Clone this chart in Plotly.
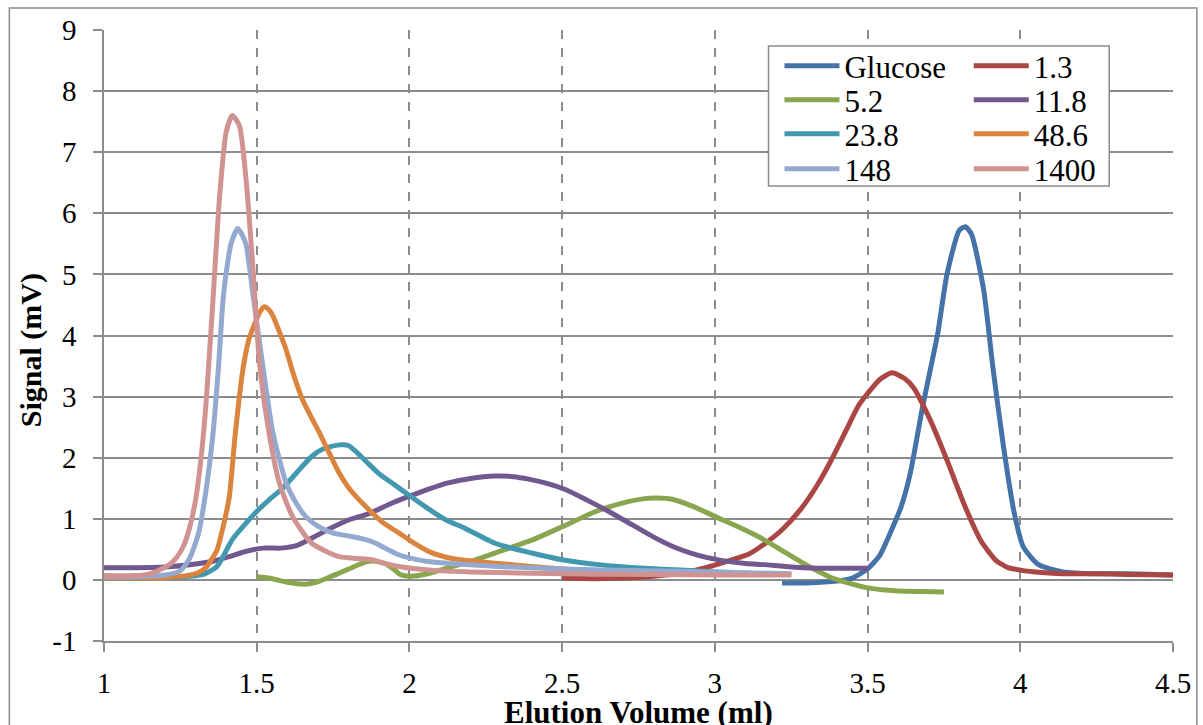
import plotly.graph_objects as go

# ---- data (elution volume in ml, signal in mV) ----
series_names = ["Glucose", "1.3", "5.2", "11.8", "23.8", "48.6", "148", "1400"]
series_colors = ["#4572A7", "#AA4643", "#89A54E", "#71588F",
                 "#4198AF", "#DB843D", "#93A9CF", "#D19392"]

glucose_x = [3.22, 3.30, 3.40, 3.45, 3.50, 3.54, 3.57, 3.61, 3.64, 3.68, 3.71, 3.73, 3.76,
             3.80, 3.82, 3.84, 3.88, 3.91, 3.945, 3.98, 4.01, 4.06, 4.14, 4.25, 4.35, 4.5]
glucose_y = [-0.05, -0.05, -0.02, 0.03, 0.18, 0.4, 0.72, 1.2, 1.75, 2.83, 3.55, 4.04, 5.0,
             5.72, 5.78, 5.66, 4.75, 3.49, 2.18, 1.1, 0.54, 0.25, 0.13, 0.1, 0.1, 0.08]

r13_x = [2.50, 2.60, 2.70, 2.80, 2.90, 2.97, 3.05, 3.11, 3.16, 3.22, 3.28, 3.335, 3.38, 3.43,
         3.47, 3.50, 3.54, 3.58, 3.62, 3.65, 3.705, 3.76, 3.815, 3.87, 3.92, 3.96, 4.0, 4.07,
         4.14, 4.25, 4.35, 4.5]
r13_y = [0.03, 0.02, 0.03, 0.06, 0.12, 0.2, 0.32, 0.42, 0.58, 0.82, 1.15, 1.55, 1.95, 2.45,
         2.85, 3.05, 3.28, 3.39, 3.3, 3.15, 2.62, 1.96, 1.25, 0.65, 0.32, 0.2, 0.16, 0.12,
         0.1, 0.1, 0.09, 0.08]

r52_x = [1.50, 1.55, 1.60, 1.66, 1.70, 1.74, 1.77, 1.82, 1.86, 1.88, 1.92, 1.95, 1.97, 2.0,
         2.06, 2.12, 2.2, 2.28, 2.4, 2.5, 2.61, 2.7, 2.77, 2.81, 2.86, 2.93, 3.0, 3.08, 3.16,
         3.22, 3.28, 3.335, 3.38, 3.43, 3.5, 3.6, 3.68, 3.75]
r52_y = [0.05, 0.02, -0.04, -0.07, -0.03, 0.05, 0.11, 0.22, 0.3, 0.31, 0.27, 0.17, 0.09, 0.06,
         0.1, 0.19, 0.3, 0.44, 0.65, 0.87, 1.12, 1.26, 1.33, 1.34, 1.32, 1.2, 1.04, 0.86, 0.66,
         0.48, 0.3, 0.15, 0.04, -0.04, -0.13, -0.18, -0.19, -0.2]

r118_x = [1.0, 1.1, 1.2, 1.3, 1.36, 1.41, 1.46, 1.52, 1.58, 1.63, 1.69, 1.74, 1.80, 1.87, 1.94,
          2.0, 2.06, 2.12, 2.2, 2.28, 2.34, 2.39, 2.45, 2.51, 2.58, 2.66, 2.73, 2.8, 2.87, 2.94,
          3.02, 3.1, 3.16, 3.25, 3.335, 3.42, 3.505]
r118_y = [0.2, 0.2, 0.21, 0.26, 0.31, 0.38, 0.46, 0.52, 0.52, 0.56, 0.71, 0.84, 0.98, 1.09, 1.25,
          1.37, 1.48, 1.58, 1.66, 1.70, 1.69, 1.65, 1.58, 1.48, 1.31, 1.1, 0.9, 0.7, 0.53, 0.41,
          0.32, 0.27, 0.25, 0.21, 0.19, 0.19, 0.19]

r238_x = [1.0, 1.1, 1.2, 1.28, 1.33, 1.37, 1.42, 1.46, 1.50, 1.545, 1.585, 1.63, 1.68, 1.72,
          1.77, 1.80, 1.825, 1.86, 1.90, 1.95, 2.0, 2.06, 2.12, 2.18, 2.28, 2.40, 2.50, 2.62,
          2.77, 2.89, 3.0, 3.1, 3.25]
r238_y = [0.03, 0.03, 0.04, 0.06, 0.1, 0.22, 0.66, 0.9, 1.12, 1.33, 1.5, 1.75, 2.02, 2.15,
          2.21, 2.2, 2.1, 1.93, 1.74, 1.56, 1.38, 1.17, 0.98, 0.85, 0.6, 0.44, 0.33, 0.25,
          0.19, 0.16, 0.13, 0.11, 0.09]

r486_x = [1.0, 1.1, 1.2, 1.27, 1.31, 1.335, 1.37, 1.39, 1.41, 1.43, 1.455, 1.475, 1.49, 1.51,
          1.525, 1.54, 1.553, 1.575, 1.596, 1.62, 1.65, 1.68, 1.705, 1.74, 1.77, 1.81, 1.857,
          1.91, 1.965, 2.01, 2.07, 2.12, 2.18, 2.29, 2.4, 2.5, 2.6, 2.8, 3.0, 3.25]
r486_y = [0.03, 0.03, 0.04, 0.07, 0.12, 0.21, 0.49, 0.87, 1.35, 2.4, 3.45, 3.95, 4.15, 4.38,
          4.47, 4.42, 4.32, 4.05, 3.77, 3.37, 2.95, 2.65, 2.41, 2.05, 1.75, 1.45, 1.2,
          0.95, 0.77, 0.62, 0.45, 0.37, 0.32, 0.27, 0.22, 0.18, 0.15, 0.12, 0.1, 0.09]

r148_x = [1.0, 1.1, 1.2, 1.25, 1.28, 1.31, 1.335, 1.357, 1.375, 1.39, 1.405, 1.417, 1.438,
          1.455, 1.466, 1.487, 1.52, 1.553, 1.596, 1.63, 1.66, 1.70, 1.748, 1.80, 1.857, 1.89,
          1.92, 1.96, 2.0, 2.06, 2.13, 2.29, 2.5, 2.77, 3.0, 3.25]
r148_y = [0.05, 0.05, 0.08, 0.15, 0.35, 0.77, 1.5, 2.4, 3.5, 4.6, 5.2, 5.52, 5.75,
          5.62, 5.47, 4.7, 3.5, 2.41, 1.59, 1.25, 1.04, 0.88, 0.77, 0.72, 0.66, 0.6,
          0.52, 0.42, 0.36, 0.3, 0.27, 0.22, 0.18, 0.15, 0.13, 0.1]

r1400_x = [1.0, 1.1, 1.15, 1.205, 1.235, 1.26, 1.28, 1.30, 1.32, 1.335, 1.357, 1.378, 1.40,
           1.42, 1.443, 1.466, 1.487, 1.51, 1.54, 1.574, 1.617, 1.68, 1.77, 1.83, 1.877, 1.92,
           1.965, 2.07, 2.2, 2.5, 2.8, 3.0, 3.25]
r1400_y = [0.07, 0.07, 0.1, 0.22, 0.35, 0.55, 0.85, 1.31, 2.1, 2.95, 4.6, 6.24, 7.33,
           7.6, 7.44, 6.51, 5.14, 3.5, 2.41, 1.59, 1.04, 0.6, 0.38, 0.35, 0.33, 0.27,
           0.22, 0.16, 0.13, 0.1, 0.09, 0.08, 0.08]

x_ticks = [1, 1.5, 2, 2.5, 3, 3.5, 4, 4.5]
y_ticks = [-1, 0, 1, 2, 3, 4, 5, 6, 7, 8, 9]

all_x = [glucose_x, r13_x, r52_x, r118_x, r238_x, r486_x, r148_x, r1400_x]
all_y = [glucose_y, r13_y, r52_y, r118_y, r238_y, r486_y, r148_y, r1400_y]

FONT = "Liberation Serif"
GRID = "#8C8C8C"

W, H = 1203, 725
L, R, T, B = 104, 26, 30, 84
pw, ph = W - L - R, H - T - B


def px2paper_x(px):
    return (px - L) / pw


def py2paper_y(py):
    return (H - B - py) / ph


# legend layout: two columns x four rows, one legend box per entry
col_left = [782, 972]
row_mid = [66, 100, 134, 169]

fig = go.Figure()
legend_layouts = {}
for i, (name, color, xs, ys) in enumerate(zip(series_names, series_colors, all_x, all_y)):
    key = "legend" if i == 0 else f"legend{i + 1}"
    fig.add_trace(go.Scatter(
        x=xs, y=ys, name=name, mode="lines", legend=key,
        line=dict(color=color, width=5, shape="spline", smoothing=0.6),
    ))
    legend_layouts[key] = dict(
        x=px2paper_x(col_left[i % 2]), y=py2paper_y(row_mid[i // 2]),
        xanchor="left", yanchor="middle", itemwidth=55,
        bgcolor="rgba(0,0,0,0)", borderwidth=0,
        font=dict(family=FONT, size=31, color="black"),
    )

fig.update_layout(
    width=W, height=H,
    margin=dict(l=L, r=R, t=T, b=B),
    paper_bgcolor="white", plot_bgcolor="white",
    font=dict(family=FONT, size=29, color="black"),
    showlegend=True,
    xaxis=dict(
        range=[1, 4.5], tickvals=x_ticks, ticktext=[str(v) for v in x_ticks],
        showgrid=True, gridcolor=GRID, gridwidth=1.5, griddash="dash",
        showline=True, linecolor=GRID, linewidth=1.5,
        ticks="outside", ticklen=9, tickcolor=GRID, tickwidth=1.5,
        ticklabelstandoff=6, zeroline=False,
        tickfont=dict(family=FONT, size=29, color="black"),
    ),
    yaxis=dict(
        range=[-1, 9], tickvals=y_ticks, ticktext=[str(v) for v in y_ticks],
        showgrid=True, gridcolor=GRID, gridwidth=1.5,
        showline=True, linecolor=GRID, linewidth=1.5,
        ticks="outside", ticklen=9, tickcolor=GRID, tickwidth=1.5,
        ticklabelstandoff=11, zeroline=False,
        tickfont=dict(family=FONT, size=29, color="black"),
    ),
    shapes=[
        dict(type="rect", xref="paper", yref="paper",
             x0=px2paper_x(9), x1=px2paper_x(1201),
             y0=py2paper_y(740), y1=py2paper_y(8),
             line=dict(color="#8C8C8C", width=1.5), fillcolor="rgba(0,0,0,0)",
             layer="below"),
        dict(type="rect", xref="paper", yref="paper",
             x0=px2paper_x(771), x1=px2paper_x(1113),
             y0=py2paper_y(186), y1=py2paper_y(46),
             line=dict(color="#8C8C8C", width=1.5), fillcolor="white",
             layer="above"),
    ],
    annotations=[
        dict(text="<b>Elution Volume (ml)</b>", xref="paper", yref="paper",
             x=px2paper_x(641), y=py2paper_y(712), xanchor="center", yanchor="middle",
             showarrow=False, font=dict(family=FONT, size=31, color="black")),
        dict(text="<b>Signal (mV)</b>", xref="paper", yref="paper",
             x=px2paper_x(31), y=py2paper_y(350), xanchor="center", yanchor="middle",
             textangle=-90, showarrow=False,
             font=dict(family=FONT, size=30, color="black")),
    ],
    **legend_layouts,
)

fig.write_html("out.html", config={"displayModeBar": False},
               post_script="document.body.style.margin='0';")
